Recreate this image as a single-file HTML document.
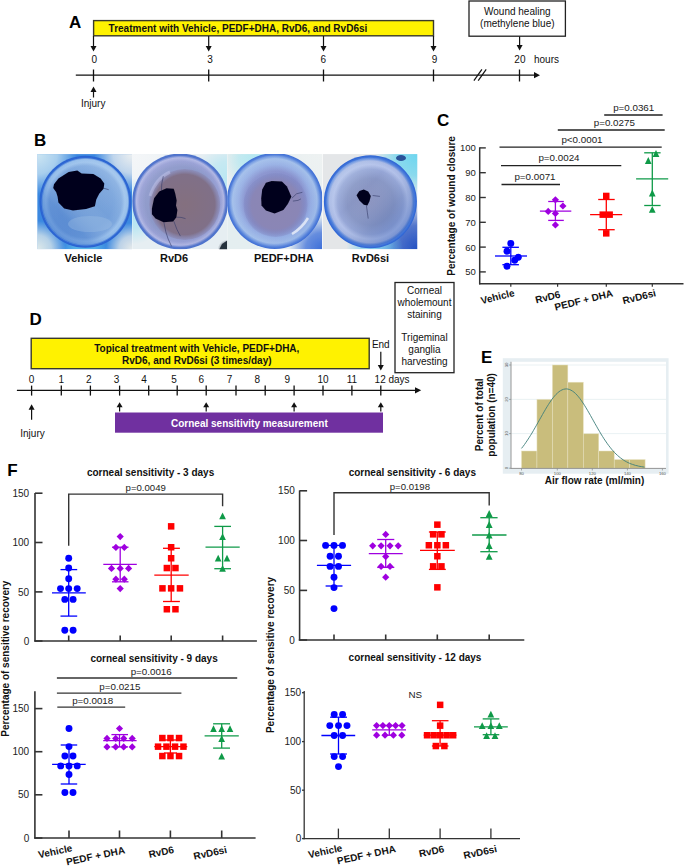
<!DOCTYPE html>
<html><head><meta charset="utf-8"><title>Figure</title>
<style>
html,body{margin:0;padding:0;background:#fff;width:685px;height:866px;overflow:hidden;}
svg{display:block;}
text{font-family:"Liberation Sans", sans-serif;}
</style></head><body>
<svg width="685" height="866" viewBox="0 0 685 866">
<defs><filter id="soft" x="-5%" y="-5%" width="110%" height="110%"><feGaussianBlur stdDeviation="0.6"/></filter><clipPath id="clip0"><rect x="37.2" y="154.1" width="95" height="95.2"/></clipPath><radialGradient id="ov0_0" cx="0" cy="0" r="0.42" fx="0" fy="0"><stop offset="0" stop-color="#cde6f2" stop-opacity="1"/><stop offset="0.5" stop-color="#cde6f2" stop-opacity="0.75"/><stop offset="1" stop-color="#cde6f2" stop-opacity="0"/></radialGradient><radialGradient id="ov0_1" cx="1" cy="0" r="0.4" fx="1" fy="0"><stop offset="0" stop-color="#eceff0" stop-opacity="1"/><stop offset="0.5" stop-color="#eceff0" stop-opacity="0.75"/><stop offset="1" stop-color="#eceff0" stop-opacity="0"/></radialGradient><radialGradient id="ov0_2" cx="0" cy="1" r="0.3" fx="0" fy="1"><stop offset="0" stop-color="#dfeaea" stop-opacity="1"/><stop offset="0.5" stop-color="#dfeaea" stop-opacity="0.75"/><stop offset="1" stop-color="#dfeaea" stop-opacity="0"/></radialGradient><radialGradient id="ov0_3" cx="1" cy="1" r="0.28" fx="1" fy="1"><stop offset="0" stop-color="#e6eaea" stop-opacity="1"/><stop offset="0.5" stop-color="#e6eaea" stop-opacity="0.75"/><stop offset="1" stop-color="#e6eaea" stop-opacity="0"/></radialGradient><radialGradient id="ov0_4" cx="0.5" cy="1.05" r="0.25" fx="0.5" fy="1.05"><stop offset="0" stop-color="#70dcf0" stop-opacity="0.6"/><stop offset="0.5" stop-color="#70dcf0" stop-opacity="0.45"/><stop offset="1" stop-color="#70dcf0" stop-opacity="0"/></radialGradient><clipPath id="clip1"><rect x="132.2" y="154.1" width="95" height="95.2"/></clipPath><radialGradient id="ov1_0" cx="0" cy="0" r="0.5" fx="0" fy="0"><stop offset="0" stop-color="#f4f6f8" stop-opacity="1"/><stop offset="0.5" stop-color="#f4f6f8" stop-opacity="0.75"/><stop offset="1" stop-color="#f4f6f8" stop-opacity="0"/></radialGradient><radialGradient id="ov1_1" cx="0" cy="0.6" r="0.35" fx="0" fy="0.6"><stop offset="0" stop-color="#98e0f2" stop-opacity="0.7"/><stop offset="0.5" stop-color="#98e0f2" stop-opacity="0.52"/><stop offset="1" stop-color="#98e0f2" stop-opacity="0"/></radialGradient><radialGradient id="ov1_2" cx="1" cy="0.25" r="0.35" fx="1" fy="0.25"><stop offset="0" stop-color="#a8e4f2" stop-opacity="0.7"/><stop offset="0.5" stop-color="#a8e4f2" stop-opacity="0.52"/><stop offset="1" stop-color="#a8e4f2" stop-opacity="0"/></radialGradient><radialGradient id="ov1_3" cx="1" cy="1" r="0.1" fx="1" fy="1"><stop offset="0" stop-color="#202838" stop-opacity="0.8"/><stop offset="0.5" stop-color="#202838" stop-opacity="0.60"/><stop offset="1" stop-color="#202838" stop-opacity="0"/></radialGradient><clipPath id="clip2"><rect x="227.2" y="154.1" width="95" height="95.2"/></clipPath><radialGradient id="ov2_0" cx="0" cy="0" r="0.45" fx="0" fy="0"><stop offset="0" stop-color="#eceeee" stop-opacity="1"/><stop offset="0.5" stop-color="#eceeee" stop-opacity="0.75"/><stop offset="1" stop-color="#eceeee" stop-opacity="0"/></radialGradient><radialGradient id="ov2_1" cx="0.3" cy="0.05" r="0.35" fx="0.3" fy="0.05"><stop offset="0" stop-color="#90e4f2" stop-opacity="0.6"/><stop offset="0.5" stop-color="#90e4f2" stop-opacity="0.45"/><stop offset="1" stop-color="#90e4f2" stop-opacity="0"/></radialGradient><radialGradient id="ov2_2" cx="1" cy="0" r="0.4" fx="1" fy="0"><stop offset="0" stop-color="#eef2f2" stop-opacity="1"/><stop offset="0.5" stop-color="#eef2f2" stop-opacity="0.75"/><stop offset="1" stop-color="#eef2f2" stop-opacity="0"/></radialGradient><radialGradient id="ov2_3" cx="0" cy="1" r="0.4" fx="0" fy="1"><stop offset="0" stop-color="#e4eef0" stop-opacity="1"/><stop offset="0.5" stop-color="#e4eef0" stop-opacity="0.75"/><stop offset="1" stop-color="#e4eef0" stop-opacity="0"/></radialGradient><radialGradient id="ov2_4" cx="1" cy="1" r="0.35" fx="1" fy="1"><stop offset="0" stop-color="#2a60d6" stop-opacity="0.9"/><stop offset="0.5" stop-color="#2a60d6" stop-opacity="0.68"/><stop offset="1" stop-color="#2a60d6" stop-opacity="0"/></radialGradient><clipPath id="clip3"><rect x="322.5" y="154.1" width="95" height="95.2"/></clipPath><radialGradient id="ov3_0" cx="1" cy="0" r="0.45" fx="1" fy="0"><stop offset="0" stop-color="#60d4f0" stop-opacity="0.9"/><stop offset="0.5" stop-color="#60d4f0" stop-opacity="0.68"/><stop offset="1" stop-color="#60d4f0" stop-opacity="0"/></radialGradient><radialGradient id="ov3_1" cx="1" cy="1" r="0.5" fx="1" fy="1"><stop offset="0" stop-color="#1848c0" stop-opacity="0.95"/><stop offset="0.5" stop-color="#1848c0" stop-opacity="0.71"/><stop offset="1" stop-color="#1848c0" stop-opacity="0"/></radialGradient><radialGradient id="ov3_2" cx="0.55" cy="1" r="0.3" fx="0.55" fy="1"><stop offset="0" stop-color="#60c8f0" stop-opacity="0.7"/><stop offset="0.5" stop-color="#60c8f0" stop-opacity="0.52"/><stop offset="1" stop-color="#60c8f0" stop-opacity="0"/></radialGradient><radialGradient id="eye0" cx="0.5" cy="0.5" r="0.5"><stop offset="0" stop-color="#78a2d8"/><stop offset="0.6" stop-color="#74a0da"/><stop offset="0.78" stop-color="#7ea8de"/><stop offset="0.86" stop-color="#9cc2ec"/><stop offset="0.92" stop-color="#92bcea"/><stop offset="0.96" stop-color="#2e68d4"/><stop offset="1" stop-color="#2a62d0"/></radialGradient><radialGradient id="eye1" cx="0.5" cy="0.5" r="0.5"><stop offset="0" stop-color="#8c98c8"/><stop offset="0.72" stop-color="#8c98c8"/><stop offset="0.84" stop-color="#98a0d4"/><stop offset="0.91" stop-color="#b2b8e4"/><stop offset="0.96" stop-color="#5476cc"/><stop offset="1" stop-color="#4a70cc"/></radialGradient><radialGradient id="eye2" cx="0.5" cy="0.5" r="0.5"><stop offset="0" stop-color="#8088c0"/><stop offset="0.62" stop-color="#8890cc"/><stop offset="0.76" stop-color="#98b0e4"/><stop offset="0.88" stop-color="#a4c0ea"/><stop offset="0.95" stop-color="#5a86dc"/><stop offset="1" stop-color="#3a6ad4"/></radialGradient><radialGradient id="eye3" cx="0.5" cy="0.5" r="0.5"><stop offset="0" stop-color="#8c94c0"/><stop offset="0.5" stop-color="#8896c4"/><stop offset="0.7" stop-color="#96a6d6"/><stop offset="0.8" stop-color="#b4c2ea"/><stop offset="0.88" stop-color="#a8b8e4"/><stop offset="0.93" stop-color="#5282dc"/><stop offset="1" stop-color="#2a62d4"/></radialGradient><linearGradient id="shade0" x1="1" y1="0" x2="0" y2="1"><stop offset="0" stop-color="#c0d8f2" stop-opacity="0.5"/><stop offset="0.45" stop-color="#c0d8f2" stop-opacity="0"/><stop offset="0.7" stop-color="#2a66c4" stop-opacity="0.3"/><stop offset="1" stop-color="#2a66c4" stop-opacity="0.65"/></linearGradient><linearGradient id="shade1" x1="0" y1="0" x2="1" y2="1"><stop offset="0" stop-color="#c0c4ec" stop-opacity="0.25"/><stop offset="0.5" stop-color="#c0c4ec" stop-opacity="0"/><stop offset="1" stop-color="#6070b0" stop-opacity="0.2"/></linearGradient><linearGradient id="shade2" x1="0" y1="0" x2="1" y2="1"><stop offset="0" stop-color="#b0c8f0" stop-opacity="0.3"/><stop offset="0.5" stop-color="#b0c8f0" stop-opacity="0"/><stop offset="1" stop-color="#4a70d0" stop-opacity="0.25"/></linearGradient><linearGradient id="shade3" x1="0" y1="0" x2="1" y2="1"><stop offset="0" stop-color="#c8d8f0" stop-opacity="0.55"/><stop offset="0.4" stop-color="#c8d8f0" stop-opacity="0"/><stop offset="0.65" stop-color="#4a68a8" stop-opacity="0.2"/><stop offset="1" stop-color="#2a5cc8" stop-opacity="0.6"/></linearGradient><radialGradient id="iris1" cx="0.5" cy="0.5" r="0.5"><stop offset="0" stop-color="#84707f"/><stop offset="0.85" stop-color="#807088"/><stop offset="1" stop-color="#8a88b4" stop-opacity="0.6"/></radialGradient><radialGradient id="iris2" cx="0.5" cy="0.5" r="0.5"><stop offset="0" stop-color="#8c86b2"/><stop offset="0.75" stop-color="#8a86b6"/><stop offset="1" stop-color="#7c84c0" stop-opacity="0.3"/></radialGradient></defs>
<rect width="685" height="866" fill="#fff"/>
<text x="69.1" y="27.8" font-size="17" font-weight="bold" text-anchor="start" fill="#000">A</text><rect x="93.6" y="20.6" width="339.9" height="15.2" fill="#fff200" stroke="#3a3a2a" stroke-width="1.4"/><text x="108.6" y="31.9" font-size="10" font-weight="bold" text-anchor="start" fill="#111">Treatment with Vehicle, PEDF+DHA, RvD6, and RvD6si</text><line x1="93.5" y1="36.0" x2="93.5" y2="46.6" stroke="#111" stroke-width="1.2"/><polygon points="90.5,46.1 96.5,46.1 93.5,51.6" fill="#111"/><line x1="208.7" y1="36.0" x2="208.7" y2="46.6" stroke="#111" stroke-width="1.2"/><polygon points="205.7,46.1 211.7,46.1 208.7,51.6" fill="#111"/><line x1="323.5" y1="36.0" x2="323.5" y2="46.6" stroke="#111" stroke-width="1.2"/><polygon points="320.5,46.1 326.5,46.1 323.5,51.6" fill="#111"/><line x1="433.5" y1="36.0" x2="433.5" y2="46.6" stroke="#111" stroke-width="1.2"/><polygon points="430.5,46.1 436.5,46.1 433.5,51.6" fill="#111"/><rect x="469" y="1" width="96.4" height="35.2" fill="#fff" stroke="#222" stroke-width="1.3"/><text x="517.3" y="14.6" font-size="10" text-anchor="middle" fill="#111">Wound healing</text><text x="517.3" y="27.2" font-size="10" text-anchor="middle" fill="#111">(methylene blue)</text><line x1="519.6" y1="36.5" x2="519.6" y2="45.5" stroke="#111" stroke-width="1.2"/><polygon points="516.6,45.0 522.6,45.0 519.6,50.5" fill="#111"/><text x="94.2" y="62.7" font-size="10" text-anchor="middle" fill="#111">0</text><text x="210.1" y="62.7" font-size="10" text-anchor="middle" fill="#111">3</text><text x="323.2" y="62.7" font-size="10" text-anchor="middle" fill="#111">6</text><text x="434.5" y="62.7" font-size="10" text-anchor="middle" fill="#111">9</text><text x="519.9" y="62.7" font-size="10" text-anchor="middle" fill="#111">20</text><text x="534.0" y="62.7" font-size="10" text-anchor="start" fill="#111">hours</text><line x1="75.8" y1="75.2" x2="536.0" y2="75.2" stroke="#111" stroke-width="1.3"/><polygon points="534.0,72.1 540.0,75.2 534.0,78.3" fill="#111"/><line x1="93.5" y1="69.5" x2="93.5" y2="81.5" stroke="#111" stroke-width="1.3"/><line x1="208.7" y1="69.5" x2="208.7" y2="81.5" stroke="#111" stroke-width="1.3"/><line x1="323.5" y1="69.5" x2="323.5" y2="81.5" stroke="#111" stroke-width="1.3"/><line x1="433.5" y1="69.5" x2="433.5" y2="81.5" stroke="#111" stroke-width="1.3"/><line x1="519.5" y1="69.5" x2="519.5" y2="81.5" stroke="#111" stroke-width="1.3"/><line x1="473.9" y1="80.6" x2="481.9" y2="69.4" stroke="#111" stroke-width="1.2"/><line x1="478.2" y1="80.6" x2="486.2" y2="69.4" stroke="#111" stroke-width="1.2"/><line x1="93.5" y1="97.5" x2="93.5" y2="91.6" stroke="#111" stroke-width="1.2"/><polygon points="90.5,92.1 96.5,92.1 93.5,86.6" fill="#111"/><text x="93.2" y="107.2" font-size="10" text-anchor="middle" fill="#111">Injury</text>
<text x="34.0" y="145.9" font-size="17" font-weight="bold" text-anchor="start" fill="#000">B</text><g clip-path="url(#clip0)"><g filter="url(#soft)"><rect x="37.2" y="154.1" width="95" height="95.2" fill="#3a88e0"/><rect x="37.2" y="154.1" width="95" height="95.2" fill="url(#ov0_0)"/><rect x="37.2" y="154.1" width="95" height="95.2" fill="url(#ov0_1)"/><rect x="37.2" y="154.1" width="95" height="95.2" fill="url(#ov0_2)"/><rect x="37.2" y="154.1" width="95" height="95.2" fill="url(#ov0_3)"/><rect x="37.2" y="154.1" width="95" height="95.2" fill="url(#ov0_4)"/><circle cx="85.4" cy="201.8" r="46" fill="url(#eye0)"/><circle cx="85.4" cy="201.8" r="43.5" fill="url(#shade0)"/><ellipse cx="90" cy="224" rx="22" ry="8" fill="#a4c2e4" opacity="0.35"/><polyline points="103.6,188.2 108.7,189.7" fill="none" stroke="#343a68" stroke-width="0.8" opacity="0.75"/><polygon points="54.0,184.3 58.4,178.5 68.6,171.9 77.3,170.4 81.7,173.4 93.4,174.1 100.7,178.5 104.3,183.6 103.6,188.7 99.2,193.8 96.3,199.6 94.9,206.2 86.1,209.1 73.0,210.6 64.2,208.4 58.4,202.6 57.6,196.7 56.2,192.3 53.2,188.0" fill="#05051c"/></g></g><g clip-path="url(#clip1)"><g filter="url(#soft)"><rect x="132.2" y="154.1" width="95" height="95.2" fill="#e6eef2"/><rect x="132.2" y="154.1" width="95" height="95.2" fill="url(#ov1_0)"/><rect x="132.2" y="154.1" width="95" height="95.2" fill="url(#ov1_1)"/><rect x="132.2" y="154.1" width="95" height="95.2" fill="url(#ov1_2)"/><rect x="132.2" y="154.1" width="95" height="95.2" fill="url(#ov1_3)"/><circle cx="180.2" cy="201.5" r="48" fill="url(#eye1)"/><circle cx="180.2" cy="201.5" r="45.5" fill="url(#shade1)"/><circle cx="184.7" cy="204.5" r="35.5" fill="url(#iris1)"/><polygon points="222.0,244.0 228.0,240.0 228.0,250.0 219.0,250.0" fill="#26303e"/><path d="M150,196 Q156,178 170,172" stroke="#c8c8ec" stroke-width="3" fill="none" opacity="0.45"/><polyline points="163.9,222.3 165.8,231.8 168.2,239.1 171.6,246.4" fill="none" stroke="#343a68" stroke-width="0.8" opacity="0.75"/><polyline points="173.8,221.2 177.0,229.6 180.4,236.1" fill="none" stroke="#343a68" stroke-width="0.8" opacity="0.75"/><polyline points="176.4,217.2 181.1,217.4 185.5,218.6" fill="none" stroke="#343a68" stroke-width="0.8" opacity="0.75"/><polyline points="161.4,190.9 161.8,183.6 163.3,176.3" fill="none" stroke="#343a68" stroke-width="0.8" opacity="0.75"/><polygon points="151.9,208.4 154.1,198.2 159.2,191.6 166.5,188.2 173.8,188.7 175.3,193.8 176.7,200.4 176.0,205.5 177.4,209.9 176.4,217.2 173.1,221.5 163.6,222.3 155.5,218.6 151.9,214.2" fill="#05051c"/></g></g><g clip-path="url(#clip2)"><g filter="url(#soft)"><rect x="227.2" y="154.1" width="95" height="95.2" fill="#e6eef0"/><rect x="227.2" y="154.1" width="95" height="95.2" fill="url(#ov2_0)"/><rect x="227.2" y="154.1" width="95" height="95.2" fill="url(#ov2_1)"/><rect x="227.2" y="154.1" width="95" height="95.2" fill="url(#ov2_2)"/><rect x="227.2" y="154.1" width="95" height="95.2" fill="url(#ov2_3)"/><rect x="227.2" y="154.1" width="95" height="95.2" fill="url(#ov2_4)"/><circle cx="274.8" cy="201.0" r="48" fill="url(#eye2)"/><circle cx="274.8" cy="201.0" r="45.5" fill="url(#shade2)"/><circle cx="275.5" cy="205" r="32" fill="url(#iris2)"/><path d="M292,234 Q302,228 308,218" stroke="#e8ecf8" stroke-width="2.5" fill="none" opacity="0.85"/><polyline points="291.9,198.2 296.5,193.8 302.4,192.3" fill="none" stroke="#343a68" stroke-width="0.8" opacity="0.75"/><polyline points="292.9,201.1 298.0,200.4 300.9,198.9" fill="none" stroke="#343a68" stroke-width="0.8" opacity="0.75"/><polygon points="262.2,189.4 265.9,182.8 271.7,180.9 281.9,181.4 287.0,186.5 291.4,196.7 287.8,204.0 283.4,209.9 274.6,213.5 265.9,210.6 261.5,205.5 261.2,198.2" fill="#05051c"/></g></g><g clip-path="url(#clip3)"><g filter="url(#soft)"><rect x="322.5" y="154.1" width="95" height="95.2" fill="#e4e6e8"/><rect x="322.5" y="154.1" width="95" height="95.2" fill="url(#ov3_0)"/><rect x="322.5" y="154.1" width="95" height="95.2" fill="url(#ov3_1)"/><rect x="322.5" y="154.1" width="95" height="95.2" fill="url(#ov3_2)"/><circle cx="370.4" cy="201.8" r="46.5" fill="url(#eye3)"/><circle cx="370.4" cy="201.8" r="44.0" fill="url(#shade3)"/><ellipse cx="401" cy="158" rx="5" ry="3" fill="#1a3a8a" opacity="0.85"/><polyline points="366.4,205.5 367.4,212.8 368.2,218.6" fill="none" stroke="#343a68" stroke-width="0.8" opacity="0.75"/><polyline points="372.6,195.5 379.9,196.4" fill="none" stroke="#343a68" stroke-width="0.8" opacity="0.75"/><polygon points="356.5,195.3 359.4,190.9 363.8,189.4 368.2,191.6 370.8,196.0 369.6,201.1 367.4,205.5 363.8,204.7 359.4,200.4" fill="#05051c"/></g></g><text x="83.4" y="262.0" font-size="11" font-weight="bold" text-anchor="middle" fill="#111">Vehicle</text><text x="174.0" y="262.0" font-size="11" font-weight="bold" text-anchor="middle" fill="#111">RvD6</text><text x="283.8" y="262.0" font-size="11" font-weight="bold" text-anchor="middle" fill="#111">PEDF+DHA</text><text x="370.5" y="262.0" font-size="11" font-weight="bold" text-anchor="middle" fill="#111">RvD6si</text>
<text x="436.9" y="125.8" font-size="17" font-weight="bold" text-anchor="start" fill="#000">C</text><line x1="479.7" y1="147.3" x2="479.7" y2="284.4" stroke="#333" stroke-width="1.5"/><line x1="479.0" y1="283.8" x2="683.5" y2="283.8" stroke="#333" stroke-width="1.5"/><line x1="479.7" y1="147.9" x2="485.8" y2="147.9" stroke="#333" stroke-width="1.4"/><text x="475.8" y="151.3" font-size="9.5" text-anchor="end" fill="#222">100</text><line x1="479.7" y1="172.7" x2="485.8" y2="172.7" stroke="#333" stroke-width="1.4"/><text x="475.8" y="176.1" font-size="9.5" text-anchor="end" fill="#222">90</text><line x1="479.7" y1="197.5" x2="485.8" y2="197.5" stroke="#333" stroke-width="1.4"/><text x="475.8" y="200.9" font-size="9.5" text-anchor="end" fill="#222">80</text><line x1="479.7" y1="222.3" x2="485.8" y2="222.3" stroke="#333" stroke-width="1.4"/><text x="475.8" y="225.7" font-size="9.5" text-anchor="end" fill="#222">70</text><line x1="479.7" y1="247.1" x2="485.8" y2="247.1" stroke="#333" stroke-width="1.4"/><text x="475.8" y="250.5" font-size="9.5" text-anchor="end" fill="#222">60</text><line x1="479.7" y1="271.9" x2="485.8" y2="271.9" stroke="#333" stroke-width="1.4"/><text x="475.8" y="275.3" font-size="9.5" text-anchor="end" fill="#222">50</text><line x1="510.8" y1="283.8" x2="510.8" y2="286.8" stroke="#333" stroke-width="1.2"/><line x1="557.6" y1="283.8" x2="557.6" y2="286.8" stroke="#333" stroke-width="1.2"/><line x1="606.3" y1="283.8" x2="606.3" y2="286.8" stroke="#333" stroke-width="1.2"/><line x1="652.3" y1="283.8" x2="652.3" y2="286.8" stroke="#333" stroke-width="1.2"/><line x1="604.2" y1="115.0" x2="662.6" y2="115.0" stroke="#222" stroke-width="1.3"/><text x="633.7" y="110.6" font-size="9.8" text-anchor="middle" fill="#222">p=0.0361</text><line x1="557.8" y1="130.0" x2="664.7" y2="130.0" stroke="#222" stroke-width="1.3"/><text x="614.3" y="125.6" font-size="9.8" text-anchor="middle" fill="#222">p=0.0275</text><line x1="499.5" y1="147.1" x2="661.7" y2="147.1" stroke="#222" stroke-width="1.3"/><text x="582.0" y="142.7" font-size="9.8" text-anchor="middle" fill="#222">p&lt;0.0001</text><line x1="501.0" y1="165.6" x2="621.3" y2="165.6" stroke="#222" stroke-width="1.3"/><text x="559.0" y="161.2" font-size="9.8" text-anchor="middle" fill="#222">p=0.0024</text><line x1="501.5" y1="184.5" x2="560.0" y2="184.5" stroke="#222" stroke-width="1.3"/><text x="535.0" y="180.1" font-size="9.8" text-anchor="middle" fill="#222">p=0.0071</text><line x1="510.8" y1="247.3" x2="510.8" y2="264.7" stroke="#0000ff" stroke-width="1.3"/><line x1="495.0" y1="256.0" x2="527.0" y2="256.0" stroke="#0000ff" stroke-width="1.3"/><line x1="502.4" y1="247.3" x2="518.9" y2="247.3" stroke="#0000ff" stroke-width="1.3"/><line x1="502.4" y1="264.7" x2="518.9" y2="264.7" stroke="#0000ff" stroke-width="1.3"/><circle cx="510.8" cy="243.5" r="3.45" fill="#0000ff"/><circle cx="507.0" cy="251.2" r="3.45" fill="#0000ff"/><circle cx="518.3" cy="257.2" r="3.45" fill="#0000ff"/><circle cx="514.7" cy="260.2" r="3.45" fill="#0000ff"/><circle cx="507.0" cy="266.2" r="3.45" fill="#0000ff"/><line x1="555.4" y1="201.5" x2="555.4" y2="220.4" stroke="#9f00e0" stroke-width="1.3"/><line x1="539.9" y1="211.1" x2="571.3" y2="211.1" stroke="#9f00e0" stroke-width="1.3"/><line x1="548.2" y1="201.5" x2="563.8" y2="201.5" stroke="#9f00e0" stroke-width="1.3"/><line x1="548.2" y1="220.4" x2="563.8" y2="220.4" stroke="#9f00e0" stroke-width="1.3"/><polygon points="555.4,196.2 559.0,199.8 555.4,203.4 551.8,199.8" fill="#9f00e0"/><polygon points="562.9,202.4 566.5,206.0 562.9,209.6 559.3,206.0" fill="#9f00e0"/><polygon points="548.2,207.8 551.8,211.4 548.2,215.0 544.6,211.4" fill="#9f00e0"/><polygon points="555.4,209.9 559.0,213.5 555.4,217.1 551.8,213.5" fill="#9f00e0"/><polygon points="555.4,221.3 559.0,224.9 555.4,228.5 551.8,224.9" fill="#9f00e0"/><line x1="606.3" y1="199.5" x2="606.3" y2="229.7" stroke="#ff0000" stroke-width="1.3"/><line x1="590.1" y1="214.7" x2="622.2" y2="214.7" stroke="#ff0000" stroke-width="1.3"/><line x1="598.2" y1="199.5" x2="614.7" y2="199.5" stroke="#ff0000" stroke-width="1.3"/><line x1="598.2" y1="229.7" x2="614.7" y2="229.7" stroke="#ff0000" stroke-width="1.3"/><rect x="603.0" y="192.7" width="6.5" height="6.5" fill="#ff0000"/><rect x="599.5" y="211.4" width="6.5" height="6.5" fill="#ff0000"/><rect x="606.4" y="211.4" width="6.5" height="6.5" fill="#ff0000"/><rect x="603.0" y="230.1" width="6.5" height="6.5" fill="#ff0000"/><line x1="652.3" y1="152.8" x2="652.3" y2="205.5" stroke="#0f9a48" stroke-width="1.3"/><line x1="636.1" y1="178.9" x2="668.2" y2="178.9" stroke="#0f9a48" stroke-width="1.3"/><line x1="644.2" y1="152.8" x2="660.6" y2="152.8" stroke="#0f9a48" stroke-width="1.3"/><line x1="644.2" y1="205.5" x2="660.6" y2="205.5" stroke="#0f9a48" stroke-width="1.3"/><polygon points="656.0,150.1 659.4,156.9 652.6,156.9" fill="#0f9a48"/><polygon points="648.3,157.1 651.6,163.9 644.9,163.9" fill="#0f9a48"/><polygon points="652.3,189.6 655.6,196.4 648.9,196.4" fill="#0f9a48"/><polygon points="652.3,205.9 655.6,212.7 648.9,212.7" fill="#0f9a48"/><text x="0.0" y="0.0" font-size="10" font-weight="bold" text-anchor="middle" fill="#111" transform="translate(455.2,205.9) rotate(-90)">Percentage of wound closure</text><text x="0.0" y="0.0" font-size="10" font-weight="bold" text-anchor="end" fill="#111" transform="translate(515.2,295.8) rotate(-14)">Vehicle</text><text x="0.0" y="0.0" font-size="10" font-weight="bold" text-anchor="end" fill="#111" transform="translate(561,297.3) rotate(-14)">RvD6</text><text x="0.0" y="0.0" font-size="10" font-weight="bold" text-anchor="end" fill="#111" transform="translate(613.5,296.2) rotate(-14)">PEDF + DHA</text><text x="0.0" y="0.0" font-size="10" font-weight="bold" text-anchor="end" fill="#111" transform="translate(656.5,296.1) rotate(-14)">RvD6si</text>
<text x="29.4" y="324.8" font-size="17" font-weight="bold" text-anchor="start" fill="#000">D</text><rect x="31.2" y="338.3" width="338" height="30.4" fill="#fff200" stroke="#3a3a2a" stroke-width="1.4"/><text x="196.8" y="351.7" font-size="10" font-weight="bold" text-anchor="middle" fill="#111">Topical treatment with Vehicle, PEDF+DHA,</text><text x="196.8" y="363.6" font-size="10" font-weight="bold" text-anchor="middle" fill="#111">RvD6, and RvD6si (3 times/day)</text><line x1="16.9" y1="390.3" x2="416.0" y2="390.3" stroke="#111" stroke-width="1.3"/><polygon points="415.0,387.2 421.2,390.3 415.0,393.4" fill="#111"/><line x1="31.6" y1="385.6" x2="31.6" y2="395.6" stroke="#111" stroke-width="1.3"/><line x1="61.3" y1="385.6" x2="61.3" y2="395.6" stroke="#111" stroke-width="1.3"/><line x1="90.4" y1="385.6" x2="90.4" y2="395.6" stroke="#111" stroke-width="1.3"/><line x1="119.6" y1="385.6" x2="119.6" y2="395.6" stroke="#111" stroke-width="1.3"/><line x1="148.7" y1="385.6" x2="148.7" y2="395.6" stroke="#111" stroke-width="1.3"/><line x1="177.2" y1="385.6" x2="177.2" y2="395.6" stroke="#111" stroke-width="1.3"/><line x1="206.2" y1="385.6" x2="206.2" y2="395.6" stroke="#111" stroke-width="1.3"/><line x1="236.0" y1="385.6" x2="236.0" y2="395.6" stroke="#111" stroke-width="1.3"/><line x1="265.2" y1="385.6" x2="265.2" y2="395.6" stroke="#111" stroke-width="1.3"/><line x1="294.1" y1="385.6" x2="294.1" y2="395.6" stroke="#111" stroke-width="1.3"/><line x1="323.0" y1="385.6" x2="323.0" y2="395.6" stroke="#111" stroke-width="1.3"/><line x1="351.9" y1="385.6" x2="351.9" y2="395.6" stroke="#111" stroke-width="1.3"/><line x1="380.8" y1="385.6" x2="380.8" y2="395.6" stroke="#111" stroke-width="1.3"/><text x="31.6" y="383.0" font-size="10" text-anchor="middle" fill="#111">0</text><text x="61.3" y="383.0" font-size="10" text-anchor="middle" fill="#111">1</text><text x="88.9" y="383.0" font-size="10" text-anchor="middle" fill="#111">2</text><text x="116.5" y="383.0" font-size="10" text-anchor="middle" fill="#111">3</text><text x="144.1" y="383.0" font-size="10" text-anchor="middle" fill="#111">4</text><text x="174.1" y="383.0" font-size="10" text-anchor="middle" fill="#111">5</text><text x="201.4" y="383.0" font-size="10" text-anchor="middle" fill="#111">6</text><text x="229.5" y="383.0" font-size="10" text-anchor="middle" fill="#111">7</text><text x="257.2" y="383.0" font-size="10" text-anchor="middle" fill="#111">8</text><text x="287.3" y="383.0" font-size="10" text-anchor="middle" fill="#111">9</text><text x="323.0" y="383.0" font-size="10" text-anchor="middle" fill="#111">10</text><text x="351.9" y="383.0" font-size="10" text-anchor="middle" fill="#111">11</text><text x="374.6" y="383.0" font-size="10" text-anchor="start" fill="#111">12 days</text><text x="380.8" y="348.2" font-size="10" text-anchor="middle" fill="#111">End</text><line x1="380.8" y1="351.8" x2="380.8" y2="365.6" stroke="#111" stroke-width="1.2"/><polygon points="377.8,365.1 383.8,365.1 380.8,370.6" fill="#111"/><rect x="395" y="282.5" width="59" height="90.2" fill="#fff" stroke="#222" stroke-width="1.3"/><text x="424.5" y="293.8" font-size="10" text-anchor="middle" fill="#111">Corneal</text><text x="424.5" y="305.8" font-size="10" text-anchor="middle" fill="#111">wholemount</text><text x="424.5" y="317.8" font-size="10" text-anchor="middle" fill="#111">staining</text><text x="424.5" y="341.4" font-size="10" text-anchor="middle" fill="#111">Trigeminal</text><text x="424.5" y="353.1" font-size="10" text-anchor="middle" fill="#111">ganglia</text><text x="424.5" y="365.1" font-size="10" text-anchor="middle" fill="#111">harvesting</text><line x1="31.6" y1="419.8" x2="31.6" y2="409.2" stroke="#111" stroke-width="1.2"/><polygon points="28.6,409.7 34.6,409.7 31.6,404.2" fill="#111"/><text x="32.5" y="437.0" font-size="10" text-anchor="middle" fill="#111">Injury</text><rect x="115" y="412.5" width="268" height="20.2" fill="#7030a0"/><text x="249.4" y="426.8" font-size="10" font-weight="bold" text-anchor="middle" fill="#fff">Corneal sensitivity measurement</text><line x1="119.6" y1="411.5" x2="119.6" y2="406.7" stroke="#111" stroke-width="1.2"/><polygon points="116.6,407.2 122.6,407.2 119.6,402.2" fill="#111"/><line x1="206.2" y1="411.5" x2="206.2" y2="406.7" stroke="#111" stroke-width="1.2"/><polygon points="203.2,407.2 209.2,407.2 206.2,402.2" fill="#111"/><line x1="294.1" y1="411.5" x2="294.1" y2="406.7" stroke="#111" stroke-width="1.2"/><polygon points="291.1,407.2 297.1,407.2 294.1,402.2" fill="#111"/><line x1="380.8" y1="411.5" x2="380.8" y2="406.7" stroke="#111" stroke-width="1.2"/><polygon points="377.8,407.2 383.8,407.2 380.8,402.2" fill="#111"/>
<text x="481.0" y="362.7" font-size="17" font-weight="bold" text-anchor="start" fill="#000">E</text><rect x="502.8" y="358.2" width="165.8" height="115.5" fill="#e6eef2"/><rect x="511" y="361.8" width="155" height="106.4" fill="#fff"/><line x1="511.0" y1="365.0" x2="666.0" y2="365.0" stroke="#e4edf0" stroke-width="0.8"/><line x1="511.0" y1="399.4" x2="666.0" y2="399.4" stroke="#e4edf0" stroke-width="0.8"/><line x1="511.0" y1="433.6" x2="666.0" y2="433.6" stroke="#e4edf0" stroke-width="0.8"/><rect x="521.50" y="451.0" width="15.45" height="17.2" fill="#c9bd7c" stroke="#e8e2c0" stroke-width="0.5"/><rect x="536.95" y="399.4" width="15.45" height="68.8" fill="#c9bd7c" stroke="#e8e2c0" stroke-width="0.5"/><rect x="552.40" y="365.0" width="15.45" height="103.2" fill="#c9bd7c" stroke="#e8e2c0" stroke-width="0.5"/><rect x="567.85" y="382.2" width="15.45" height="86.0" fill="#c9bd7c" stroke="#e8e2c0" stroke-width="0.5"/><rect x="583.30" y="433.8" width="15.45" height="34.4" fill="#c9bd7c" stroke="#e8e2c0" stroke-width="0.5"/><rect x="598.75" y="451.0" width="15.45" height="17.2" fill="#c9bd7c" stroke="#e8e2c0" stroke-width="0.5"/><rect x="614.20" y="459.6" width="15.45" height="8.6" fill="#c9bd7c" stroke="#e8e2c0" stroke-width="0.5"/><rect x="629.65" y="459.6" width="15.45" height="8.6" fill="#c9bd7c" stroke="#e8e2c0" stroke-width="0.5"/><line x1="511.0" y1="361.8" x2="511.0" y2="468.6" stroke="#8a8a8a" stroke-width="0.9"/><line x1="510.6" y1="468.4" x2="666.0" y2="468.4" stroke="#8a8a8a" stroke-width="0.9"/><line x1="508.8" y1="365.0" x2="511.0" y2="365.0" stroke="#8a8a8a" stroke-width="0.7"/><text x="0.0" y="0.0" font-size="4.2" text-anchor="middle" fill="#555" transform="translate(507.6,365) rotate(-90)">30</text><line x1="508.8" y1="399.4" x2="511.0" y2="399.4" stroke="#8a8a8a" stroke-width="0.7"/><text x="0.0" y="0.0" font-size="4.2" text-anchor="middle" fill="#555" transform="translate(507.6,399.4) rotate(-90)">20</text><line x1="508.8" y1="433.6" x2="511.0" y2="433.6" stroke="#8a8a8a" stroke-width="0.7"/><text x="0.0" y="0.0" font-size="4.2" text-anchor="middle" fill="#555" transform="translate(507.6,433.6) rotate(-90)">10</text><line x1="508.8" y1="468.2" x2="511.0" y2="468.2" stroke="#8a8a8a" stroke-width="0.7"/><text x="0.0" y="0.0" font-size="4.2" text-anchor="middle" fill="#555" transform="translate(507.6,468.2) rotate(-90)">0</text><line x1="521.5" y1="468.4" x2="521.5" y2="470.5" stroke="#8a8a8a" stroke-width="0.7"/><text x="521.5" y="474.6" font-size="4.2" text-anchor="middle" fill="#555">80</text><line x1="557.3" y1="468.4" x2="557.3" y2="470.5" stroke="#8a8a8a" stroke-width="0.7"/><text x="557.3" y="474.6" font-size="4.2" text-anchor="middle" fill="#555">100</text><line x1="592.3" y1="468.4" x2="592.3" y2="470.5" stroke="#8a8a8a" stroke-width="0.7"/><text x="592.3" y="474.6" font-size="4.2" text-anchor="middle" fill="#555">120</text><line x1="627.4" y1="468.4" x2="627.4" y2="470.5" stroke="#8a8a8a" stroke-width="0.7"/><text x="627.4" y="474.6" font-size="4.2" text-anchor="middle" fill="#555">140</text><line x1="662.4" y1="468.4" x2="662.4" y2="470.5" stroke="#8a8a8a" stroke-width="0.7"/><text x="662.4" y="474.6" font-size="4.2" text-anchor="middle" fill="#555">160</text><polyline fill="none" stroke="#3f7f7a" stroke-width="0.9" points="521.5,448.4 523.0,446.5 524.5,444.5 526.0,442.3 527.5,440.1 529.0,437.8 530.5,435.4 532.0,433.0 533.5,430.4 535.0,427.8 536.5,425.2 538.0,422.5 539.5,419.8 541.0,417.2 542.5,414.5 544.0,411.9 545.5,409.3 547.0,406.8 548.5,404.4 550.0,402.1 551.5,399.9 553.0,397.9 554.5,396.1 556.0,394.4 557.5,393.0 559.0,391.7 560.5,390.7 562.0,389.9 563.5,389.3 565.0,389.0 566.5,388.9 568.0,389.1 569.5,389.5 571.0,390.2 572.5,391.1 574.0,392.2 575.5,393.5 577.0,395.1 578.5,396.8 580.0,398.7 581.5,400.8 583.0,403.0 584.5,405.3 586.0,407.8 587.5,410.3 589.0,412.9 590.5,415.5 592.0,418.2 593.5,420.9 595.0,423.6 596.5,426.2 598.0,428.9 599.5,431.4 601.0,434.0 602.5,436.4 604.0,438.8 605.5,441.0 607.0,443.2 608.5,445.3 610.0,447.2 611.5,449.1 613.0,450.8 614.5,452.5 616.0,454.0 617.5,455.4 619.0,456.7 620.5,457.9 622.0,459.0 623.5,460.1 625.0,461.0 626.5,461.8 628.0,462.6 629.5,463.3 631.0,463.9 632.5,464.4 634.0,464.9 635.5,465.4 637.0,465.7 638.5,466.1 640.0,466.4 641.5,466.6 643.0,466.9 644.5,467.1"/><text x="0.0" y="0.0" font-size="10" font-weight="bold" text-anchor="middle" fill="#111" transform="translate(482.9,414.8) rotate(-90)">Percent of total</text><text x="0.0" y="0.0" font-size="10" font-weight="bold" text-anchor="middle" fill="#111" transform="translate(494.8,414.9) rotate(-90)">population (n=40)</text><text x="594.6" y="484.2" font-size="10" font-weight="bold" text-anchor="middle" fill="#111">Air flow rate (ml/min)</text>
<text x="7.3" y="475.8" font-size="17" font-weight="bold" text-anchor="start" fill="#000">F</text><text x="150.6" y="476.3" font-size="10" font-weight="bold" text-anchor="middle" fill="#111">corneal sensitivity - 3 days</text><line x1="35.0" y1="493.0" x2="35.0" y2="641.6" stroke="#333" stroke-width="1.6"/><line x1="35.0" y1="493.2" x2="42.5" y2="493.2" stroke="#333" stroke-width="1.6"/><text x="29.2" y="496.8" font-size="10" text-anchor="end" fill="#222">150</text><line x1="35.0" y1="542.5" x2="42.5" y2="542.5" stroke="#333" stroke-width="1.6"/><text x="29.2" y="546.1" font-size="10" text-anchor="end" fill="#222">100</text><line x1="35.0" y1="591.9" x2="42.5" y2="591.9" stroke="#333" stroke-width="1.6"/><text x="29.2" y="595.5" font-size="10" text-anchor="end" fill="#222">50</text><line x1="35.0" y1="641.0" x2="42.5" y2="641.0" stroke="#333" stroke-width="1.6"/><text x="29.2" y="644.6" font-size="10" text-anchor="end" fill="#222">0</text><line x1="34.2" y1="641.0" x2="256.9" y2="641.0" stroke="#333" stroke-width="1.6"/><line x1="68.7" y1="635.5" x2="68.7" y2="641.0" stroke="#333" stroke-width="1.6"/><line x1="120.2" y1="635.5" x2="120.2" y2="641.0" stroke="#333" stroke-width="1.6"/><line x1="171.2" y1="635.5" x2="171.2" y2="641.0" stroke="#333" stroke-width="1.6"/><line x1="222.6" y1="635.5" x2="222.6" y2="641.0" stroke="#333" stroke-width="1.6"/><polyline fill="none" stroke="#333" stroke-width="1.4" points="68.7,545.8 68.7,494.1 222.6,494.1 222.6,506.3"/><text x="145.7" y="491.0" font-size="9.6" text-anchor="middle" fill="#222">p=0.0049</text><line x1="68.7" y1="569.6" x2="68.7" y2="616.1" stroke="#0000ff" stroke-width="1.3"/><line x1="52.0" y1="592.9" x2="85.8" y2="592.9" stroke="#0000ff" stroke-width="1.3"/><line x1="60.5" y1="569.6" x2="77.2" y2="569.6" stroke="#0000ff" stroke-width="1.3"/><line x1="60.5" y1="616.1" x2="77.2" y2="616.1" stroke="#0000ff" stroke-width="1.3"/><circle cx="68.7" cy="558.2" r="3.45" fill="#0000ff"/><circle cx="68.7" cy="568.0" r="3.45" fill="#0000ff"/><circle cx="68.7" cy="578.8" r="3.45" fill="#0000ff"/><circle cx="60.5" cy="588.6" r="3.45" fill="#0000ff"/><circle cx="68.7" cy="588.6" r="3.45" fill="#0000ff"/><circle cx="77.2" cy="588.6" r="3.45" fill="#0000ff"/><circle cx="64.8" cy="599.4" r="3.45" fill="#0000ff"/><circle cx="73.1" cy="599.4" r="3.45" fill="#0000ff"/><circle cx="64.8" cy="630.2" r="3.45" fill="#0000ff"/><circle cx="73.1" cy="630.2" r="3.45" fill="#0000ff"/><line x1="120.2" y1="547.2" x2="120.2" y2="581.8" stroke="#9f00e0" stroke-width="1.3"/><line x1="103.3" y1="564.3" x2="136.8" y2="564.3" stroke="#9f00e0" stroke-width="1.3"/><line x1="112.0" y1="547.2" x2="128.5" y2="547.2" stroke="#9f00e0" stroke-width="1.3"/><line x1="112.0" y1="581.8" x2="128.5" y2="581.8" stroke="#9f00e0" stroke-width="1.3"/><polygon points="120.2,533.0 123.8,536.6 120.2,540.2 116.6,536.6" fill="#9f00e0"/><polygon points="115.9,543.8 119.5,547.4 115.9,551.0 112.3,547.4" fill="#9f00e0"/><polygon points="124.3,543.8 127.9,547.4 124.3,551.0 120.7,547.4" fill="#9f00e0"/><polygon points="111.5,564.8 115.1,568.4 111.5,572.0 107.9,568.4" fill="#9f00e0"/><polygon points="120.2,564.8 123.8,568.4 120.2,572.0 116.6,568.4" fill="#9f00e0"/><polygon points="128.6,564.8 132.2,568.4 128.6,572.0 125.0,568.4" fill="#9f00e0"/><polygon points="115.9,575.6 119.5,579.2 115.9,582.8 112.3,579.2" fill="#9f00e0"/><polygon points="124.3,575.6 127.9,579.2 124.3,582.8 120.7,579.2" fill="#9f00e0"/><polygon points="120.2,585.0 123.8,588.6 120.2,592.2 116.6,588.6" fill="#9f00e0"/><line x1="171.2" y1="548.3" x2="171.2" y2="601.5" stroke="#ff0000" stroke-width="1.3"/><line x1="154.3" y1="575.2" x2="188.7" y2="575.2" stroke="#ff0000" stroke-width="1.3"/><line x1="163.0" y1="548.3" x2="179.9" y2="548.3" stroke="#ff0000" stroke-width="1.3"/><line x1="163.0" y1="601.5" x2="179.9" y2="601.5" stroke="#ff0000" stroke-width="1.3"/><rect x="167.9" y="523.1" width="6.5" height="6.5" fill="#ff0000"/><rect x="167.9" y="544.0" width="6.5" height="6.5" fill="#ff0000"/><rect x="167.9" y="555.0" width="6.5" height="6.5" fill="#ff0000"/><rect x="163.6" y="564.8" width="6.5" height="6.5" fill="#ff0000"/><rect x="172.2" y="564.8" width="6.5" height="6.5" fill="#ff0000"/><rect x="159.2" y="585.1" width="6.5" height="6.5" fill="#ff0000"/><rect x="167.9" y="585.1" width="6.5" height="6.5" fill="#ff0000"/><rect x="176.7" y="585.1" width="6.5" height="6.5" fill="#ff0000"/><rect x="163.6" y="606.0" width="6.5" height="6.5" fill="#ff0000"/><rect x="172.2" y="606.0" width="6.5" height="6.5" fill="#ff0000"/><line x1="222.6" y1="526.4" x2="222.6" y2="568.7" stroke="#0f9a48" stroke-width="1.3"/><line x1="205.5" y1="547.2" x2="239.7" y2="547.2" stroke="#0f9a48" stroke-width="1.3"/><line x1="214.3" y1="526.4" x2="231.0" y2="526.4" stroke="#0f9a48" stroke-width="1.3"/><line x1="214.3" y1="568.7" x2="231.0" y2="568.7" stroke="#0f9a48" stroke-width="1.3"/><polygon points="222.6,512.4 225.9,519.2 219.2,519.2" fill="#0f9a48"/><polygon points="222.6,533.2 225.9,540.0 219.2,540.0" fill="#0f9a48"/><polygon points="218.2,554.7 221.5,561.5 214.8,561.5" fill="#0f9a48"/><polygon points="227.0,554.7 230.3,561.5 223.7,561.5" fill="#0f9a48"/><polygon points="222.6,565.0 225.9,571.8 219.2,571.8" fill="#0f9a48"/><text x="412.3" y="476.3" font-size="10" font-weight="bold" text-anchor="middle" fill="#111">corneal sensitivity - 6 days</text><line x1="299.6" y1="490.4" x2="299.6" y2="640.6" stroke="#333" stroke-width="1.6"/><line x1="299.6" y1="490.8" x2="307.1" y2="490.8" stroke="#333" stroke-width="1.6"/><text x="294.8" y="494.4" font-size="10" text-anchor="end" fill="#222">150</text><line x1="299.6" y1="540.5" x2="307.1" y2="540.5" stroke="#333" stroke-width="1.6"/><text x="294.8" y="544.1" font-size="10" text-anchor="end" fill="#222">100</text><line x1="299.6" y1="590.4" x2="307.1" y2="590.4" stroke="#333" stroke-width="1.6"/><text x="294.8" y="594.0" font-size="10" text-anchor="end" fill="#222">50</text><line x1="299.6" y1="640.0" x2="307.1" y2="640.0" stroke="#333" stroke-width="1.6"/><text x="294.8" y="643.6" font-size="10" text-anchor="end" fill="#222">0</text><line x1="298.8" y1="640.0" x2="524.3" y2="640.0" stroke="#333" stroke-width="1.6"/><line x1="334.0" y1="634.5" x2="334.0" y2="640.0" stroke="#333" stroke-width="1.6"/><line x1="385.7" y1="634.5" x2="385.7" y2="640.0" stroke="#333" stroke-width="1.6"/><line x1="437.3" y1="634.5" x2="437.3" y2="640.0" stroke="#333" stroke-width="1.6"/><line x1="489.2" y1="634.5" x2="489.2" y2="640.0" stroke="#333" stroke-width="1.6"/><polyline fill="none" stroke="#333" stroke-width="1.4" points="334,535 334,492.8 489.2,492.8 489.2,505.5"/><text x="409.9" y="489.5" font-size="9.6" text-anchor="middle" fill="#222">p=0.0198</text><line x1="334.0" y1="545.4" x2="334.0" y2="586.0" stroke="#0000ff" stroke-width="1.3"/><line x1="316.9" y1="565.4" x2="351.1" y2="565.4" stroke="#0000ff" stroke-width="1.3"/><line x1="325.6" y1="545.4" x2="342.5" y2="545.4" stroke="#0000ff" stroke-width="1.3"/><line x1="325.6" y1="586.0" x2="342.5" y2="586.0" stroke="#0000ff" stroke-width="1.3"/><circle cx="325.6" cy="545.4" r="3.45" fill="#0000ff"/><circle cx="334.0" cy="545.4" r="3.45" fill="#0000ff"/><circle cx="342.5" cy="545.4" r="3.45" fill="#0000ff"/><circle cx="330.1" cy="556.2" r="3.45" fill="#0000ff"/><circle cx="338.5" cy="556.2" r="3.45" fill="#0000ff"/><circle cx="330.1" cy="566.4" r="3.45" fill="#0000ff"/><circle cx="338.5" cy="566.4" r="3.45" fill="#0000ff"/><circle cx="334.0" cy="577.2" r="3.45" fill="#0000ff"/><circle cx="334.0" cy="587.6" r="3.45" fill="#0000ff"/><circle cx="334.0" cy="608.6" r="3.45" fill="#0000ff"/><line x1="385.7" y1="539.5" x2="385.7" y2="567.4" stroke="#9f00e0" stroke-width="1.3"/><line x1="368.8" y1="553.6" x2="402.7" y2="553.6" stroke="#9f00e0" stroke-width="1.3"/><line x1="377.2" y1="539.5" x2="394.3" y2="539.5" stroke="#9f00e0" stroke-width="1.3"/><line x1="377.2" y1="567.4" x2="394.3" y2="567.4" stroke="#9f00e0" stroke-width="1.3"/><polygon points="385.7,530.8 389.3,534.4 385.7,538.0 382.1,534.4" fill="#9f00e0"/><polygon points="372.7,542.2 376.3,545.8 372.7,549.4 369.1,545.8" fill="#9f00e0"/><polygon points="381.1,542.2 384.7,545.8 381.1,549.4 377.5,545.8" fill="#9f00e0"/><polygon points="390.0,542.2 393.6,545.8 390.0,549.4 386.4,545.8" fill="#9f00e0"/><polygon points="398.2,542.2 401.8,545.8 398.2,549.4 394.6,545.8" fill="#9f00e0"/><polygon points="385.7,553.0 389.3,556.6 385.7,560.2 382.1,556.6" fill="#9f00e0"/><polygon points="381.1,562.8 384.7,566.4 381.1,570.0 377.5,566.4" fill="#9f00e0"/><polygon points="390.0,562.8 393.6,566.4 390.0,570.0 386.4,566.4" fill="#9f00e0"/><polygon points="385.7,573.6 389.3,577.2 385.7,580.8 382.1,577.2" fill="#9f00e0"/><line x1="437.3" y1="532.0" x2="437.3" y2="569.4" stroke="#ff0000" stroke-width="1.3"/><line x1="420.0" y1="550.3" x2="454.8" y2="550.3" stroke="#ff0000" stroke-width="1.3"/><line x1="428.9" y1="532.0" x2="445.8" y2="532.0" stroke="#ff0000" stroke-width="1.3"/><line x1="428.9" y1="569.4" x2="445.8" y2="569.4" stroke="#ff0000" stroke-width="1.3"/><rect x="434.1" y="521.4" width="6.5" height="6.5" fill="#ff0000"/><rect x="429.9" y="531.1" width="6.5" height="6.5" fill="#ff0000"/><rect x="438.2" y="531.1" width="6.5" height="6.5" fill="#ff0000"/><rect x="425.6" y="542.0" width="6.5" height="6.5" fill="#ff0000"/><rect x="434.1" y="542.0" width="6.5" height="6.5" fill="#ff0000"/><rect x="442.6" y="542.0" width="6.5" height="6.5" fill="#ff0000"/><rect x="434.1" y="553.0" width="6.5" height="6.5" fill="#ff0000"/><rect x="429.9" y="563.1" width="6.5" height="6.5" fill="#ff0000"/><rect x="438.2" y="563.1" width="6.5" height="6.5" fill="#ff0000"/><rect x="434.1" y="584.1" width="6.5" height="6.5" fill="#ff0000"/><line x1="489.2" y1="517.7" x2="489.2" y2="551.7" stroke="#0f9a48" stroke-width="1.3"/><line x1="472.1" y1="535.0" x2="506.5" y2="535.0" stroke="#0f9a48" stroke-width="1.3"/><line x1="480.3" y1="517.7" x2="497.6" y2="517.7" stroke="#0f9a48" stroke-width="1.3"/><line x1="480.3" y1="551.7" x2="497.6" y2="551.7" stroke="#0f9a48" stroke-width="1.3"/><polygon points="489.2,510.1 492.6,516.9 485.8,516.9" fill="#0f9a48"/><polygon points="489.2,521.1 492.6,527.9 485.8,527.9" fill="#0f9a48"/><polygon points="489.2,531.7 492.6,538.5 485.8,538.5" fill="#0f9a48"/><polygon points="489.2,542.1 492.6,548.9 485.8,548.9" fill="#0f9a48"/><polygon points="489.2,552.9 492.6,559.7 485.8,559.7" fill="#0f9a48"/><text x="0.0" y="0.0" font-size="10" font-weight="bold" text-anchor="middle" fill="#111" transform="translate(8.6,658.7) rotate(-90)">Percentage of sensitive recovery</text><text x="0.0" y="0.0" font-size="10" font-weight="bold" text-anchor="middle" fill="#111" transform="translate(274.4,655) rotate(-90)">Percentage of sensitive recovery</text><text x="154.1" y="661.8" font-size="10" font-weight="bold" text-anchor="middle" fill="#111">corneal sensitivity - 9 days</text><line x1="34.9" y1="691.3" x2="34.9" y2="838.6" stroke="#333" stroke-width="1.6"/><line x1="34.9" y1="708.6" x2="42.4" y2="708.6" stroke="#333" stroke-width="1.6"/><text x="29.2" y="712.2" font-size="10" text-anchor="end" fill="#222">150</text><line x1="34.9" y1="751.7" x2="42.4" y2="751.7" stroke="#333" stroke-width="1.6"/><text x="29.2" y="755.3" font-size="10" text-anchor="end" fill="#222">100</text><line x1="34.9" y1="794.8" x2="42.4" y2="794.8" stroke="#333" stroke-width="1.6"/><text x="29.2" y="798.4" font-size="10" text-anchor="end" fill="#222">50</text><line x1="34.9" y1="838.0" x2="42.4" y2="838.0" stroke="#333" stroke-width="1.6"/><text x="29.2" y="841.6" font-size="10" text-anchor="end" fill="#222">0</text><line x1="34.1" y1="838.0" x2="255.6" y2="838.0" stroke="#333" stroke-width="1.6"/><line x1="69.0" y1="830.5" x2="69.0" y2="838.0" stroke="#333" stroke-width="1.6"/><line x1="119.5" y1="830.5" x2="119.5" y2="838.0" stroke="#333" stroke-width="1.6"/><line x1="170.4" y1="830.5" x2="170.4" y2="838.0" stroke="#333" stroke-width="1.6"/><line x1="221.7" y1="830.5" x2="221.7" y2="838.0" stroke="#333" stroke-width="1.6"/><line x1="56.9" y1="678.0" x2="237.2" y2="678.0" stroke="#333" stroke-width="1.4"/><text x="151.2" y="674.6" font-size="9.8" text-anchor="middle" fill="#222">p=0.0016</text><line x1="56.9" y1="693.1" x2="181.4" y2="693.1" stroke="#333" stroke-width="1.4"/><text x="119.9" y="689.7" font-size="9.8" text-anchor="middle" fill="#222">p=0.0215</text><line x1="57.3" y1="707.1" x2="125.2" y2="707.1" stroke="#333" stroke-width="1.4"/><text x="92.7" y="703.7" font-size="9.8" text-anchor="middle" fill="#222">p=0.0018</text><line x1="69.0" y1="745.0" x2="69.0" y2="784.0" stroke="#0000ff" stroke-width="1.3"/><line x1="52.1" y1="764.4" x2="85.7" y2="764.4" stroke="#0000ff" stroke-width="1.3"/><line x1="60.7" y1="745.0" x2="77.2" y2="745.0" stroke="#0000ff" stroke-width="1.3"/><line x1="60.7" y1="784.0" x2="77.2" y2="784.0" stroke="#0000ff" stroke-width="1.3"/><circle cx="69.0" cy="728.5" r="3.45" fill="#0000ff"/><circle cx="69.0" cy="746.6" r="3.45" fill="#0000ff"/><circle cx="64.9" cy="756.0" r="3.45" fill="#0000ff"/><circle cx="73.0" cy="756.0" r="3.45" fill="#0000ff"/><circle cx="60.7" cy="765.9" r="3.45" fill="#0000ff"/><circle cx="69.0" cy="765.9" r="3.45" fill="#0000ff"/><circle cx="77.2" cy="765.9" r="3.45" fill="#0000ff"/><circle cx="69.0" cy="774.5" r="3.45" fill="#0000ff"/><circle cx="64.9" cy="792.5" r="3.45" fill="#0000ff"/><circle cx="73.0" cy="792.5" r="3.45" fill="#0000ff"/><line x1="119.5" y1="734.6" x2="119.5" y2="746.9" stroke="#9f00e0" stroke-width="1.3"/><line x1="103.2" y1="740.7" x2="136.6" y2="740.7" stroke="#9f00e0" stroke-width="1.3"/><line x1="111.4" y1="734.6" x2="128.0" y2="734.6" stroke="#9f00e0" stroke-width="1.3"/><line x1="111.4" y1="746.9" x2="128.0" y2="746.9" stroke="#9f00e0" stroke-width="1.3"/><polygon points="119.5,724.9 123.1,728.5 119.5,732.1 115.9,728.5" fill="#9f00e0"/><polygon points="107.0,734.8 110.6,738.4 107.0,742.0 103.4,738.4" fill="#9f00e0"/><polygon points="115.7,734.8 119.3,738.4 115.7,742.0 112.1,738.4" fill="#9f00e0"/><polygon points="123.7,734.8 127.3,738.4 123.7,742.0 120.1,738.4" fill="#9f00e0"/><polygon points="132.2,734.8 135.8,738.4 132.2,742.0 128.6,738.4" fill="#9f00e0"/><polygon points="107.0,743.3 110.6,746.9 107.0,750.5 103.4,746.9" fill="#9f00e0"/><polygon points="115.7,743.3 119.3,746.9 115.7,750.5 112.1,746.9" fill="#9f00e0"/><polygon points="123.7,743.3 127.3,746.9 123.7,750.5 120.1,746.9" fill="#9f00e0"/><polygon points="132.2,743.3 135.8,746.9 132.2,750.5 128.6,746.9" fill="#9f00e0"/><line x1="170.4" y1="740.0" x2="170.4" y2="753.0" stroke="#ff0000" stroke-width="1.3"/><line x1="154.3" y1="746.6" x2="187.3" y2="746.6" stroke="#ff0000" stroke-width="1.3"/><line x1="164.0" y1="740.0" x2="177.0" y2="740.0" stroke="#ff0000" stroke-width="1.3"/><line x1="164.0" y1="753.0" x2="177.0" y2="753.0" stroke="#ff0000" stroke-width="1.3"/><rect x="159.1" y="734.8" width="6.5" height="6.5" fill="#ff0000"/><rect x="167.2" y="734.8" width="6.5" height="6.5" fill="#ff0000"/><rect x="175.8" y="734.8" width="6.5" height="6.5" fill="#ff0000"/><rect x="154.8" y="743.4" width="6.5" height="6.5" fill="#ff0000"/><rect x="163.2" y="743.4" width="6.5" height="6.5" fill="#ff0000"/><rect x="171.8" y="743.4" width="6.5" height="6.5" fill="#ff0000"/><rect x="180.2" y="743.4" width="6.5" height="6.5" fill="#ff0000"/><rect x="159.1" y="752.8" width="6.5" height="6.5" fill="#ff0000"/><rect x="167.2" y="752.8" width="6.5" height="6.5" fill="#ff0000"/><rect x="175.8" y="752.8" width="6.5" height="6.5" fill="#ff0000"/><line x1="221.7" y1="723.8" x2="221.7" y2="748.1" stroke="#0f9a48" stroke-width="1.3"/><line x1="204.6" y1="735.9" x2="238.8" y2="735.9" stroke="#0f9a48" stroke-width="1.3"/><line x1="213.1" y1="723.8" x2="230.0" y2="723.8" stroke="#0f9a48" stroke-width="1.3"/><line x1="213.1" y1="748.1" x2="230.0" y2="748.1" stroke="#0f9a48" stroke-width="1.3"/><polygon points="213.5,725.2 216.8,732.0 210.2,732.0" fill="#0f9a48"/><polygon points="221.7,725.2 225.0,732.0 218.3,732.0" fill="#0f9a48"/><polygon points="230.0,725.2 233.3,732.0 226.7,732.0" fill="#0f9a48"/><polygon points="221.7,735.3 225.0,742.1 218.3,742.1" fill="#0f9a48"/><polygon points="221.7,752.7 225.0,759.5 218.3,759.5" fill="#0f9a48"/><text x="0.0" y="0.0" font-size="10" font-weight="bold" text-anchor="end" fill="#111" transform="translate(72.8,851.2) rotate(-12)">Vehicle</text><text x="0.0" y="0.0" font-size="10" font-weight="bold" text-anchor="end" fill="#111" transform="translate(125.5,853.2) rotate(-12)">PEDF + DHA</text><text x="0.0" y="0.0" font-size="10" font-weight="bold" text-anchor="end" fill="#111" transform="translate(174.5,852.8) rotate(-12)">RvD6</text><text x="0.0" y="0.0" font-size="10" font-weight="bold" text-anchor="end" fill="#111" transform="translate(227.5,852.8) rotate(-12)">RvD6si</text><text x="415.0" y="661.3" font-size="10" font-weight="bold" text-anchor="middle" fill="#111">corneal sensitivity - 12 days</text><line x1="304.2" y1="691.0" x2="304.2" y2="839.2" stroke="#333" stroke-width="1.3"/><line x1="302.0" y1="692.7" x2="304.2" y2="692.7" stroke="#333" stroke-width="1.3"/><text x="301.2" y="696.3" font-size="10" text-anchor="end" fill="#222">150</text><line x1="302.0" y1="741.6" x2="304.2" y2="741.6" stroke="#333" stroke-width="1.3"/><text x="301.2" y="745.2" font-size="10" text-anchor="end" fill="#222">100</text><line x1="302.0" y1="790.2" x2="304.2" y2="790.2" stroke="#333" stroke-width="1.3"/><text x="301.2" y="793.8" font-size="10" text-anchor="end" fill="#222">50</text><line x1="302.0" y1="838.6" x2="304.2" y2="838.6" stroke="#333" stroke-width="1.3"/><text x="301.2" y="842.2" font-size="10" text-anchor="end" fill="#222">0</text><line x1="303.5" y1="838.6" x2="520.0" y2="838.6" stroke="#333" stroke-width="1.3"/><line x1="338.4" y1="828.6" x2="338.4" y2="838.6" stroke="#333" stroke-width="1.3"/><line x1="389.3" y1="828.6" x2="389.3" y2="838.6" stroke="#333" stroke-width="1.3"/><line x1="440.1" y1="828.6" x2="440.1" y2="838.6" stroke="#333" stroke-width="1.3"/><line x1="490.9" y1="828.6" x2="490.9" y2="838.6" stroke="#333" stroke-width="1.3"/><text x="408.4" y="698.0" font-size="9.8" text-anchor="start" fill="#222">NS</text><line x1="338.5" y1="717.2" x2="338.5" y2="754.0" stroke="#0000ff" stroke-width="1.3"/><line x1="321.4" y1="735.5" x2="355.2" y2="735.5" stroke="#0000ff" stroke-width="1.3"/><line x1="330.1" y1="717.2" x2="347.0" y2="717.2" stroke="#0000ff" stroke-width="1.3"/><line x1="330.1" y1="754.0" x2="347.0" y2="754.0" stroke="#0000ff" stroke-width="1.3"/><circle cx="334.2" cy="714.5" r="3.45" fill="#0000ff"/><circle cx="342.6" cy="714.5" r="3.45" fill="#0000ff"/><circle cx="329.8" cy="725.6" r="3.45" fill="#0000ff"/><circle cx="338.5" cy="725.6" r="3.45" fill="#0000ff"/><circle cx="347.0" cy="725.6" r="3.45" fill="#0000ff"/><circle cx="334.2" cy="735.5" r="3.45" fill="#0000ff"/><circle cx="342.6" cy="735.5" r="3.45" fill="#0000ff"/><circle cx="334.2" cy="756.6" r="3.45" fill="#0000ff"/><circle cx="342.6" cy="756.6" r="3.45" fill="#0000ff"/><circle cx="338.5" cy="766.6" r="3.45" fill="#0000ff"/><line x1="389.3" y1="725.6" x2="389.3" y2="735.2" stroke="#9f00e0" stroke-width="1.3"/><line x1="372.2" y1="729.8" x2="406.0" y2="729.8" stroke="#9f00e0" stroke-width="1.3"/><line x1="382.0" y1="725.6" x2="396.0" y2="725.6" stroke="#9f00e0" stroke-width="1.3"/><line x1="382.0" y1="735.2" x2="396.0" y2="735.2" stroke="#9f00e0" stroke-width="1.3"/><polygon points="376.6,722.0 380.2,725.6 376.6,729.2 373.0,725.6" fill="#9f00e0"/><polygon points="382.9,722.0 386.5,725.6 382.9,729.2 379.3,725.6" fill="#9f00e0"/><polygon points="389.3,722.0 392.9,725.6 389.3,729.2 385.7,725.6" fill="#9f00e0"/><polygon points="395.6,722.0 399.2,725.6 395.6,729.2 392.0,725.6" fill="#9f00e0"/><polygon points="402.0,722.0 405.6,725.6 402.0,729.2 398.4,725.6" fill="#9f00e0"/><polygon points="376.6,731.6 380.2,735.2 376.6,738.8 373.0,735.2" fill="#9f00e0"/><polygon points="385.0,731.6 388.6,735.2 385.0,738.8 381.4,735.2" fill="#9f00e0"/><polygon points="393.4,731.6 397.0,735.2 393.4,738.8 389.8,735.2" fill="#9f00e0"/><polygon points="401.8,731.6 405.4,735.2 401.8,738.8 398.2,735.2" fill="#9f00e0"/><line x1="440.1" y1="720.7" x2="440.1" y2="746.0" stroke="#ff0000" stroke-width="1.3"/><line x1="423.7" y1="735.2" x2="456.4" y2="735.2" stroke="#ff0000" stroke-width="1.3"/><line x1="431.9" y1="720.7" x2="448.5" y2="720.7" stroke="#ff0000" stroke-width="1.3"/><line x1="431.9" y1="746.0" x2="448.5" y2="746.0" stroke="#ff0000" stroke-width="1.3"/><rect x="436.9" y="701.6" width="6.5" height="6.5" fill="#ff0000"/><rect x="436.9" y="722.4" width="6.5" height="6.5" fill="#ff0000"/><rect x="423.8" y="732.0" width="6.5" height="6.5" fill="#ff0000"/><rect x="430.4" y="732.0" width="6.5" height="6.5" fill="#ff0000"/><rect x="436.9" y="732.0" width="6.5" height="6.5" fill="#ff0000"/><rect x="443.4" y="732.0" width="6.5" height="6.5" fill="#ff0000"/><rect x="449.9" y="732.0" width="6.5" height="6.5" fill="#ff0000"/><rect x="432.6" y="742.8" width="6.5" height="6.5" fill="#ff0000"/><rect x="441.1" y="742.8" width="6.5" height="6.5" fill="#ff0000"/><line x1="490.9" y1="718.9" x2="490.9" y2="734.7" stroke="#0f9a48" stroke-width="1.3"/><line x1="474.0" y1="726.8" x2="507.8" y2="726.8" stroke="#0f9a48" stroke-width="1.3"/><line x1="482.7" y1="718.9" x2="499.3" y2="718.9" stroke="#0f9a48" stroke-width="1.3"/><line x1="482.7" y1="734.7" x2="499.3" y2="734.7" stroke="#0f9a48" stroke-width="1.3"/><polygon points="490.9,710.8 494.2,717.6 487.5,717.6" fill="#0f9a48"/><polygon points="482.2,722.2 485.6,729.0 478.8,729.0" fill="#0f9a48"/><polygon points="490.9,722.2 494.2,729.0 487.5,729.0" fill="#0f9a48"/><polygon points="499.3,722.2 502.7,729.0 495.9,729.0" fill="#0f9a48"/><polygon points="486.6,732.2 490.0,739.0 483.2,739.0" fill="#0f9a48"/><polygon points="495.0,732.2 498.4,739.0 491.6,739.0" fill="#0f9a48"/><text x="0.0" y="0.0" font-size="10" font-weight="bold" text-anchor="end" fill="#111" transform="translate(342.8,851) rotate(-12)">Vehicle</text><text x="0.0" y="0.0" font-size="10" font-weight="bold" text-anchor="end" fill="#111" transform="translate(396.3,852) rotate(-12)">PEDF + DHA</text><text x="0.0" y="0.0" font-size="10" font-weight="bold" text-anchor="end" fill="#111" transform="translate(444.8,852) rotate(-12)">RvD6</text><text x="0.0" y="0.0" font-size="10" font-weight="bold" text-anchor="end" fill="#111" transform="translate(497.5,852) rotate(-12)">RvD6si</text>
</svg>
</body></html>
